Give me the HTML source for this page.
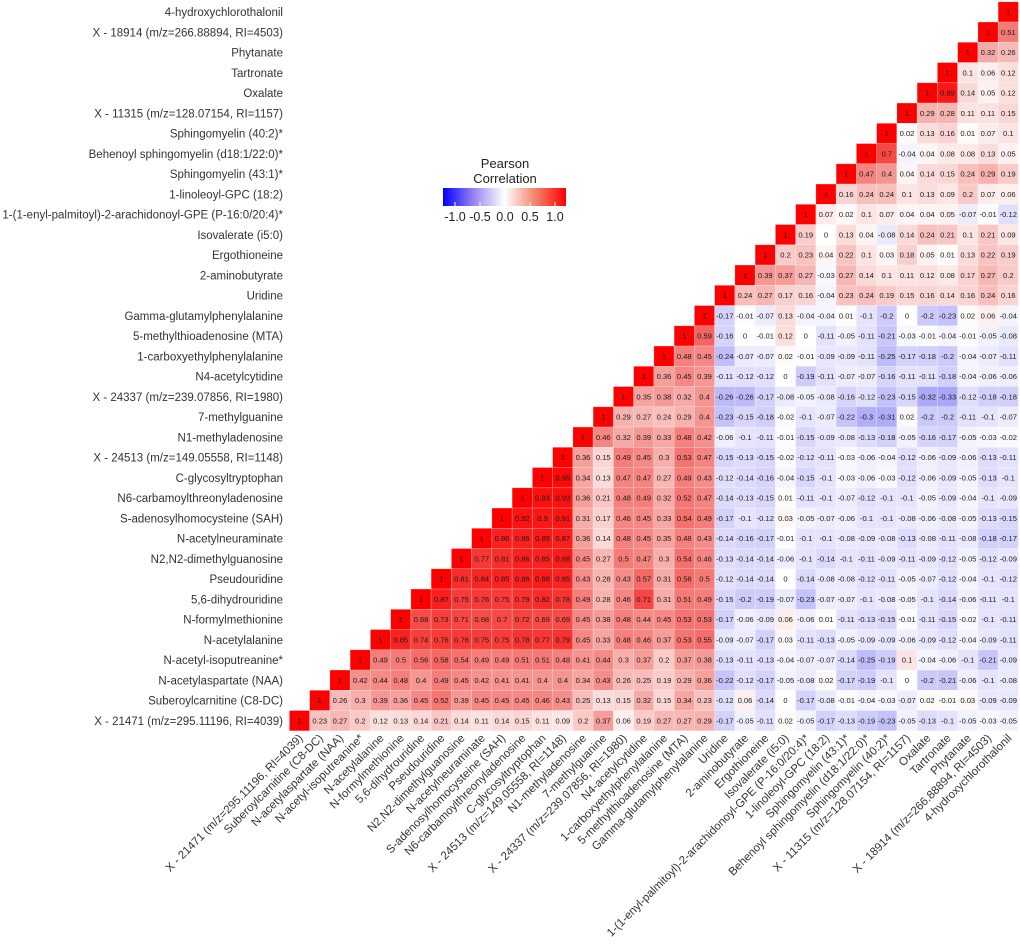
<!DOCTYPE html>
<html><head><meta charset="utf-8"><style>
html,body{margin:0;padding:0;background:#fff;}
svg{display:block;font-family:"Liberation Sans",sans-serif;}
</style></head><body>
<svg id="chart" width="1020" height="948" viewBox="0 0 1020 948">
<g id="cells"></g>
<g id="rowlabels"></g>
<g id="collabels"></g>
<g id="legend">
<defs><linearGradient id="lg" x1="0" x2="1" y1="0" y2="0">
<stop offset="0" stop-color="#0000ff"/><stop offset="0.25" stop-color="#9a84f2"/><stop offset="0.5" stop-color="#ffffff"/><stop offset="0.75" stop-color="#f5836b"/><stop offset="1" stop-color="#ff0000"/></linearGradient></defs>
<text x="505" y="168" text-anchor="middle" font-size="13" fill="#222">Pearson</text>
<text x="505" y="183" text-anchor="middle" font-size="13" fill="#222">Correlation</text>
<rect x="443" y="188" width="123" height="18" fill="url(#lg)"/>
</g>
</svg>
<script>
const labels = ["4-hydroxychlorothalonil","X - 18914 (m/z=266.88894, RI=4503)","Phytanate","Tartronate","Oxalate","X - 11315 (m/z=128.07154, RI=1157)","Sphingomyelin (40:2)*","Behenoyl sphingomyelin (d18:1/22:0)*","Sphingomyelin (43:1)*","1-linoleoyl-GPC (18:2)","1-(1-enyl-palmitoyl)-2-arachidonoyl-GPE (P-16:0/20:4)*","Isovalerate (i5:0)","Ergothioneine","2-aminobutyrate","Uridine","Gamma-glutamylphenylalanine","5-methylthioadenosine (MTA)","1-carboxyethylphenylalanine","N4-acetylcytidine","X - 24337 (m/z=239.07856, RI=1980)","7-methylguanine","N1-methyladenosine","X - 24513 (m/z=149.05558, RI=1148)","C-glycosyltryptophan","N6-carbamoylthreonyladenosine","S-adenosylhomocysteine (SAH)","N-acetylneuraminate","N2,N2-dimethylguanosine","Pseudouridine","5,6-dihydrouridine","N-formylmethionine","N-acetylalanine","N-acetyl-isoputreanine*","N-acetylaspartate (NAA)","Suberoylcarnitine (C8-DC)","X - 21471 (m/z=295.11196, RI=4039)"];
const r0=[1];
const r1=[1,0.51];
const r2=[1,0.32,0.26];
const r3=[1,0.1,0.06,0.12];
const r4=[1,0.89,0.14,0.05,0.12];
const r5=[1,0.29,0.28,0.11,0.11,0.15];
const r6=[1,0.02,0.13,0.16,0.01,0.07,0.1];
const r7=[1,0.7,-0.04,0.04,0.08,0.08,0.13,0.05];
const r8=[1,0.47,0.4,0.04,0.14,0.15,0.24,0.29,0.19];
const r9=[1,0.16,0.24,0.24,0.1,0.13,0.09,0.2,0.07,0.06];
const r10=[1,0.07,0.02,0.1,0.07,0.04,0.04,0.05,-0.07,-0.01,-0.12];
const r11=[1,0.19,0,0.13,0.04,-0.08,0.14,0.24,0.21,0.1,0.21,0.09];
const r12=[1,0.2,0.23,0.04,0.22,0.1,0.03,0.18,0.05,0.01,0.13,0.22,0.19];
const r13=[1,0.39,0.37,0.27,-0.03,0.27,0.14,0.1,0.11,0.12,0.08,0.17,0.27,0.2];
const r14=[1,0.24,0.27,0.17,0.16,-0.04,0.23,0.24,0.19,0.15,0.16,0.14,0.16,0.24,0.16];
const r15=[1,-0.17,-0.01,-0.07,0.13,-0.04,-0.04,0.01,-0.1,-0.2,0,-0.2,-0.23,0.02,0.06,-0.04];
const r16=[1,0.59,-0.16,0,-0.01,0.12,0,-0.11,-0.05,-0.11,-0.21,-0.03,-0.01,-0.04,-0.01,-0.05,-0.08];
const r17=[1,0.48,0.45,-0.24,-0.07,-0.07,0.02,-0.01,-0.09,-0.09,-0.11,-0.25,-0.17,-0.18,-0.2,-0.04,-0.07,-0.11];
const r18=[1,0.36,0.45,0.39,-0.11,-0.12,-0.12,0,-0.19,-0.11,-0.07,-0.07,-0.16,-0.11,-0.11,-0.18,-0.04,-0.06,-0.06];
const r19=[1,0.35,0.38,0.32,0.4,-0.26,-0.26,-0.17,-0.08,-0.05,-0.08,-0.16,-0.12,-0.23,-0.15,-0.32,-0.33,-0.12,-0.18,-0.18];
const r20=[1,0.29,0.27,0.24,0.29,0.4,-0.23,-0.15,-0.18,-0.02,-0.1,-0.07,-0.22,-0.3,-0.31,0.02,-0.2,-0.2,-0.11,-0.1,-0.07];
const r21=[1,0.46,0.32,0.39,0.33,0.48,0.42,-0.06,-0.1,-0.11,-0.01,-0.15,-0.09,-0.08,-0.13,-0.18,-0.05,-0.16,-0.17,-0.05,-0.03,-0.02];
const r22=[1,0.36,0.15,0.49,0.45,0.3,0.53,0.47,-0.15,-0.13,-0.15,-0.02,-0.12,-0.11,-0.03,-0.06,-0.04,-0.12,-0.06,-0.09,-0.06,-0.13,-0.11];
const r23=[1,0.95,0.34,0.13,0.47,0.47,0.27,0.49,0.43,-0.12,-0.14,-0.16,-0.04,-0.15,-0.1,-0.03,-0.06,-0.03,-0.12,-0.06,-0.09,-0.05,-0.13,-0.1];
const r24=[1,0.93,0.93,0.36,0.21,0.48,0.49,0.32,0.52,0.47,-0.14,-0.13,-0.15,0.01,-0.11,-0.1,-0.07,-0.12,-0.1,-0.1,-0.05,-0.09,-0.04,-0.1,-0.09];
const r25=[1,0.92,0.9,0.91,0.31,0.17,0.46,0.45,0.33,0.54,0.49,-0.17,-0.1,-0.12,0.03,-0.05,-0.07,-0.06,-0.1,-0.1,-0.08,-0.06,-0.08,-0.05,-0.13,-0.15];
const r26=[1,0.86,0.86,0.89,0.87,0.36,0.14,0.48,0.45,0.35,0.48,0.43,-0.14,-0.16,-0.17,-0.01,-0.1,-0.1,-0.08,-0.09,-0.08,-0.13,-0.08,-0.11,-0.08,-0.18,-0.17];
const r27=[1,0.77,0.81,0.86,0.85,0.88,0.45,0.27,0.5,0.47,0.3,0.54,0.46,-0.13,-0.14,-0.14,-0.06,-0.1,-0.14,-0.1,-0.11,-0.09,-0.11,-0.09,-0.12,-0.05,-0.12,-0.09];
const r28=[1,0.81,0.84,0.85,0.86,0.88,0.85,0.43,0.28,0.43,0.57,0.31,0.56,0.5,-0.12,-0.14,-0.14,0,-0.14,-0.08,-0.08,-0.12,-0.11,-0.05,-0.07,-0.12,-0.04,-0.1,-0.12];
const r29=[1,0.87,0.75,0.76,0.75,0.79,0.82,0.78,0.49,0.28,0.46,0.71,0.31,0.51,0.49,-0.15,-0.2,-0.19,-0.07,-0.23,-0.07,-0.07,-0.1,-0.08,-0.05,-0.1,-0.14,-0.06,-0.11,-0.1];
const r30=[1,0.68,0.73,0.71,0.68,0.7,0.72,0.69,0.69,0.45,0.38,0.48,0.44,0.45,0.53,0.53,-0.17,-0.06,-0.09,0.06,-0.06,0.01,-0.11,-0.13,-0.15,-0.01,-0.11,-0.15,-0.02,-0.1,-0.11];
const r31=[1,0.85,0.74,0.76,0.76,0.75,0.75,0.78,0.77,0.79,0.45,0.33,0.48,0.46,0.37,0.53,0.55,-0.09,-0.07,-0.17,0.03,-0.11,-0.13,-0.05,-0.09,-0.09,-0.06,-0.09,-0.12,-0.04,-0.09,-0.11];
const r32=[1,0.49,0.5,0.56,0.58,0.54,0.49,0.49,0.51,0.51,0.48,0.41,0.44,0.3,0.37,0.2,0.37,0.38,-0.13,-0.11,-0.13,-0.04,-0.07,-0.07,-0.14,-0.25,-0.19,0.1,-0.04,-0.06,-0.1,-0.21,-0.09];
const r33=[1,0.42,0.44,0.48,0.4,0.49,0.45,0.42,0.41,0.41,0.4,0.4,0.34,0.43,0.26,0.25,0.19,0.29,0.36,-0.22,-0.12,-0.17,-0.05,-0.08,0.02,-0.17,-0.19,-0.1,0,-0.2,-0.21,-0.06,-0.1,-0.08];
const r34=[1,0.26,0.3,0.39,0.36,0.45,0.52,0.39,0.45,0.45,0.45,0.46,0.43,0.25,0.13,0.15,0.32,0.15,0.34,0.23,-0.12,0.06,-0.14,0,-0.17,-0.08,-0.01,-0.04,-0.03,-0.07,0.02,-0.01,0.03,-0.09,-0.09];
const r35=[1,0.23,0.27,0.2,0.12,0.13,0.14,0.21,0.14,0.11,0.14,0.15,0.11,0.09,0.2,0.37,0.06,0.19,0.27,0.27,0.29,-0.17,-0.05,-0.11,0.02,-0.05,-0.17,-0.13,-0.19,-0.23,-0.05,-0.13,-0.1,-0.05,-0.03,-0.05];
const rows=[r0,r1,r2,r3,r4,r5,r6,r7,r8,r9,r10,r11,r12,r13,r14,r15,r16,r17,r18,r19,r20,r21,r22,r23,r24,r25,r26,r27,r28,r29,r30,r31,r32,r33,r34,r35];
const legendTicks=[-1.0,-0.5,0.0,0.5,1.0];
const legendTickLabels=["-1.0","-0.5","0.0","0.5","1.0"];

const NS="http://www.w3.org/2000/svg";
const N=labels.length, X0=289.4, Y0=1.8, CW=20.25, CH=20.25;
const xPos=c=>X0+c*CW, yPos=r=>Y0+r*CH;
const lx=v=>505+v*50;
function color(v){
  const a=Math.min(1,Math.abs(v));
  const t=Math.pow(1-a,1.05);
  if(v>=0){const r=255-40*a*(1-a);return `rgb(${Math.round(r)},${Math.round(255*t)},${Math.round(240*t+15*t*t)})`;}
  const b=255-30*a*(1-a);return `rgb(${Math.round(255*t+10*a*(1-a))},${Math.round(255*t)},${Math.round(b)})`;
}
function mk(tag,attrs,parent){const e=document.createElementNS(NS,tag);for(const k in attrs)e.setAttribute(k,attrs[k]);parent.appendChild(e);return e;}
const gc=document.getElementById('cells');
rows.forEach((vals,r)=>{
  const start=N-1-r;
  vals.forEach((v,i)=>{
    const c=start+i;
    const rect=mk('rect',{x:xPos(c),y:yPos(r),width:CW,height:CH,fill:color(v),stroke:'#ffffff','stroke-opacity':'0.35','stroke-width':'0.6'},gc);
    
    
    const t=mk('text',{x:xPos(c)+CW/2,y:yPos(r)+CH/2+2.8,'text-anchor':'middle','font-size':'7.6',fill:'#1a1a1a'},gc);
    t.textContent=String(v);
    
    
  });
});
const gr=document.getElementById('rowlabels');
labels.forEach((l,r)=>{
  const t=mk('text',{x:283,y:yPos(r)+CH/2+4.2,'text-anchor':'end','font-size':'11.5',fill:'#333'},gr);
  t.textContent=l;
  
  
});
const gcl=document.getElementById('collabels');
const colLabels=labels.slice().reverse();
colLabels.forEach((l,c)=>{
  const x=xPos(c)+CW/2+4, y=Y0+N*CH+8;
  const t=mk('text',{x:x,y:y,'text-anchor':'end','font-size':'11.5',fill:'#333',transform:`rotate(-45 ${x} ${y})`},gcl);
  t.textContent=l;
  
  
});
const gl=document.getElementById('legend');
legendTicks.forEach((v,i)=>{
  const ln=mk('line',{x1:lx(v),x2:lx(v),y1:202,y2:206,stroke:'#fff','stroke-width':'1'},gl);
  
  
  const t=mk('text',{x:lx(v),y:221,'text-anchor':'middle','font-size':'12.5',fill:'#222'},gl);
  t.textContent=legendTickLabels[i];
  
  
});
</script>
</body></html>
